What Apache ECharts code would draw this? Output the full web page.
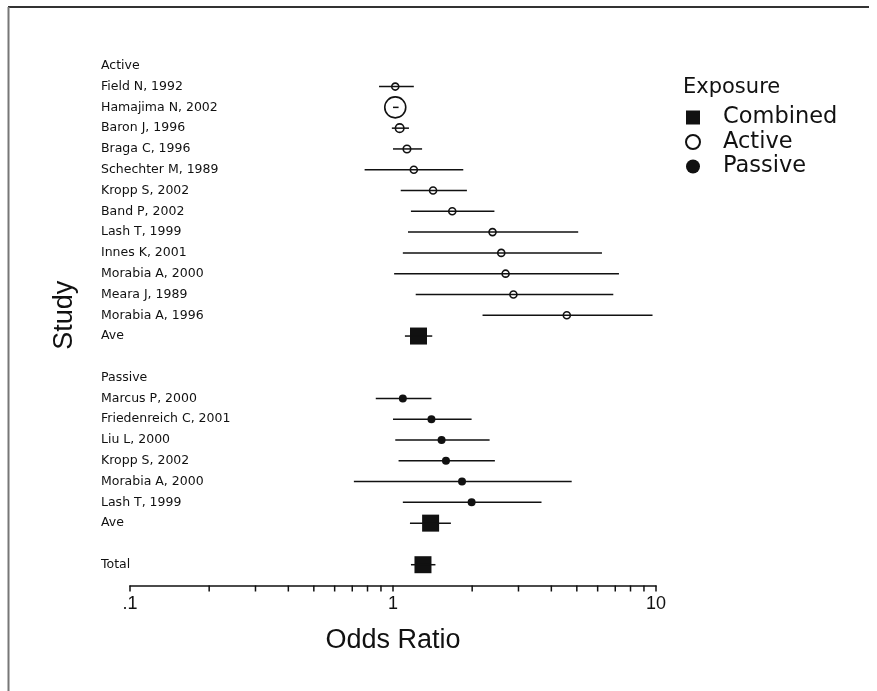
<!DOCTYPE html>
<html>
<head>
<meta charset="utf-8">
<script src="https://cdn.jsdelivr.net/npm/echarts@6/dist/echarts.min.js"></script>
<style>
html,body{margin:0;padding:0;background:#fff;}
#chart{width:877px;height:691px;}
</style>
</head>
<body>
<div id="chart"></div>
<script>
// ---------- DATA ----------
const activeStudies = ['Field N, 1992','Hamajima N, 2002','Baron J, 1996','Braga C, 1996','Schechter M, 1989','Kropp S, 2002','Band P, 2002','Lash T, 1999','Innes K, 2001','Morabia A, 2000','Meara J, 1989','Morabia A, 1996'];
const activeOR   = [1.02, 1.02, 1.06, 1.13, 1.20, 1.42, 1.68, 2.39, 2.58, 2.68, 2.87, 4.58];
const activeLow  = [0.885, 1.00, 0.99, 1.00, 0.78, 1.07, 1.17, 1.14, 1.09, 1.01, 1.22, 2.19];
const activeHigh = [1.20, 1.05, 1.15, 1.29, 1.85, 1.91, 2.43, 5.06, 6.23, 7.23, 6.88, 9.70];

const passiveStudies = ['Marcus P, 2000','Friedenreich C, 2001','Liu L, 2000','Kropp S, 2002','Morabia A, 2000','Lash T, 1999'];
const passiveOR   = [1.09, 1.40, 1.53, 1.59, 1.83, 1.99];
const passiveLow  = [0.86, 1.00, 1.02, 1.05, 0.71, 1.09];
const passiveHigh = [1.40, 1.99, 2.33, 2.44, 4.78, 3.67];

const combinedNames = ['Active Ave', 'Passive Ave', 'Total'];
const combinedOR   = [1.25, 1.39, 1.30];
const combinedLow  = [1.11, 1.16, 1.17];
const combinedHigh = [1.41, 1.66, 1.45];

const xTickLabels = ['.1', '1', '10'];
const minorTickValues = [0.2,0.3,0.4,0.5,0.6,0.7,0.8,0.9,2,3,4,5,6,7,8,9];

// ---------- STYLE ----------
const activeMarkerSizes = [7, 21, 8.5, 7.5, 7, 7, 7, 7, 7, 7, 7, 7];
const passiveMarkerSize = 8;
const combinedMarkerSize = 17;
const INK = '#111';
const FONT = 'DejaVu Sans';

// ---------- ROW LAYOUT (built from data) ----------
const rowLabels = [];
rowLabels.push('Active');
const activeRows = activeStudies.map(s => { rowLabels.push(s); return rowLabels.length - 1; });
rowLabels.push('Ave'); const activeAveRow = rowLabels.length - 1;
rowLabels.push('');
rowLabels.push('Passive');
const passiveRows = passiveStudies.map(s => { rowLabels.push(s); return rowLabels.length - 1; });
rowLabels.push('Ave'); const passiveAveRow = rowLabels.length - 1;
rowLabels.push('');
rowLabels.push('Total'); const totalRow = rowLabels.length - 1;
const combinedRows = [activeAveRow, passiveAveRow, totalRow];
const axisRow = rowLabels.length; // x axis sits one row below last

const ciData = [];
activeOR.forEach((v, i) => ciData.push([activeLow[i], activeHigh[i], activeRows[i]]));
passiveOR.forEach((v, i) => ciData.push([passiveLow[i], passiveHigh[i], passiveRows[i]]));
combinedOR.forEach((v, i) => ciData.push([combinedLow[i], combinedHigh[i], combinedRows[i]]));

const chart = echarts.init(document.getElementById('chart'), null, {renderer: 'canvas'});
chart.setOption({
  backgroundColor: '#fff',
  animation: false,
  title: {
    text: 'Exposure', left: 678, top: 72,
    textStyle: {fontFamily: FONT, fontSize: 21, fontWeight: 'normal', color: INK}
  },
  legend: {
    data: ['Combined', 'Active', 'Passive'],
    orient: 'vertical', left: 680, top: 101,
    itemWidth: 14, itemHeight: 14, itemGap: 1.5,
    textStyle: {fontFamily: FONT, fontSize: 22.5, color: INK, lineHeight: 22, padding: [0, 0, 0, 18]},
    selectedMode: false
  },
  grid: {left: 130, right: 221, top: 45, bottom: 105.5, containLabel: false},
  xAxis: {
    type: 'log', logBase: 10, min: 0.1, max: 10, position: 'bottom',
    name: 'Odds Ratio', nameLocation: 'middle', nameGap: 42,
    nameTextStyle: {fontFamily: 'Liberation Sans', fontSize: 27, color: INK},
    axisLine: {show: true, onZero: false, lineStyle: {color: INK, width: 1.5}},
    axisTick: {show: true, inside: false, length: 6, lineStyle: {color: INK, width: 1.5}},
    axisLabel: {
      fontFamily: 'Liberation Sans', fontSize: 18, color: INK, margin: 10,
      formatter: v => xTickLabels[Math.round(Math.log10(v)) + 1]
    },
    splitLine: {show: false}
  },
  yAxis: {
    type: 'value', inverse: true, min: -1, max: axisRow, interval: 1,
    name: 'Study', nameLocation: 'middle', nameGap: 52, nameRotate: 90,
    nameTextStyle: {fontFamily: 'Liberation Sans', fontSize: 27, color: INK},
    axisLine: {show: false}, axisTick: {show: false}, splitLine: {show: false},
    axisLabel: {
      align: 'left', margin: 29, fontFamily: FONT, fontSize: 12.5, color: INK,
      formatter: v => (v >= 0 && v < rowLabels.length) ? rowLabels[v] : ''
    }
  },
  graphic: [
    {type: 'line', shape: {x1: 8, y1: 7, x2: 869, y2: 7}, style: {stroke: '#333', lineWidth: 2}},
    {type: 'line', shape: {x1: 8.5, y1: 7, x2: 8.5, y2: 691}, style: {stroke: '#777', lineWidth: 2}}
  ],
  series: [
    {
      name: 'minorTicks', type: 'scatter', silent: true, clip: false, z: 1,
      symbol: 'rect', symbolSize: [1.5, 6], symbolOffset: [0, 3],
      itemStyle: {color: INK, opacity: 1},
      data: minorTickValues.map(v => [v, axisRow])
    },
    {
      name: 'Combined', type: 'scatter', z: 2, symbol: 'rect',
      symbolSize: combinedMarkerSize,
      itemStyle: {color: INK, opacity: 1},
      data: combinedOR.map((v, i) => [v, combinedRows[i]])
    },
    {
      name: 'Active', type: 'scatter', z: 2, symbol: 'circle',
      symbolSize: (val, p) => activeMarkerSizes[p.dataIndex],
      itemStyle: {color: '#fff', borderColor: INK, borderWidth: 1.6, opacity: 1},
      data: activeOR.map((v, i) => [v, activeRows[i]])
    },
    {
      name: 'Passive', type: 'scatter', z: 2, symbol: 'circle',
      symbolSize: passiveMarkerSize,
      itemStyle: {color: INK, opacity: 1},
      data: passiveOR.map((v, i) => [v, passiveRows[i]])
    },
    {
      name: 'CI', type: 'custom', z: 3, silent: true,
      encode: {x: [0, 1], y: 2},
      renderItem: (params, api) => {
        const a = api.coord([api.value(0), api.value(2)]);
        const b = api.coord([api.value(1), api.value(2)]);
        return {type: 'line', shape: {x1: a[0], y1: a[1], x2: b[0], y2: b[1]},
                style: {stroke: INK, lineWidth: 1.5}};
      },
      data: ciData
    }
  ]
});
</script>
</body>
</html>
